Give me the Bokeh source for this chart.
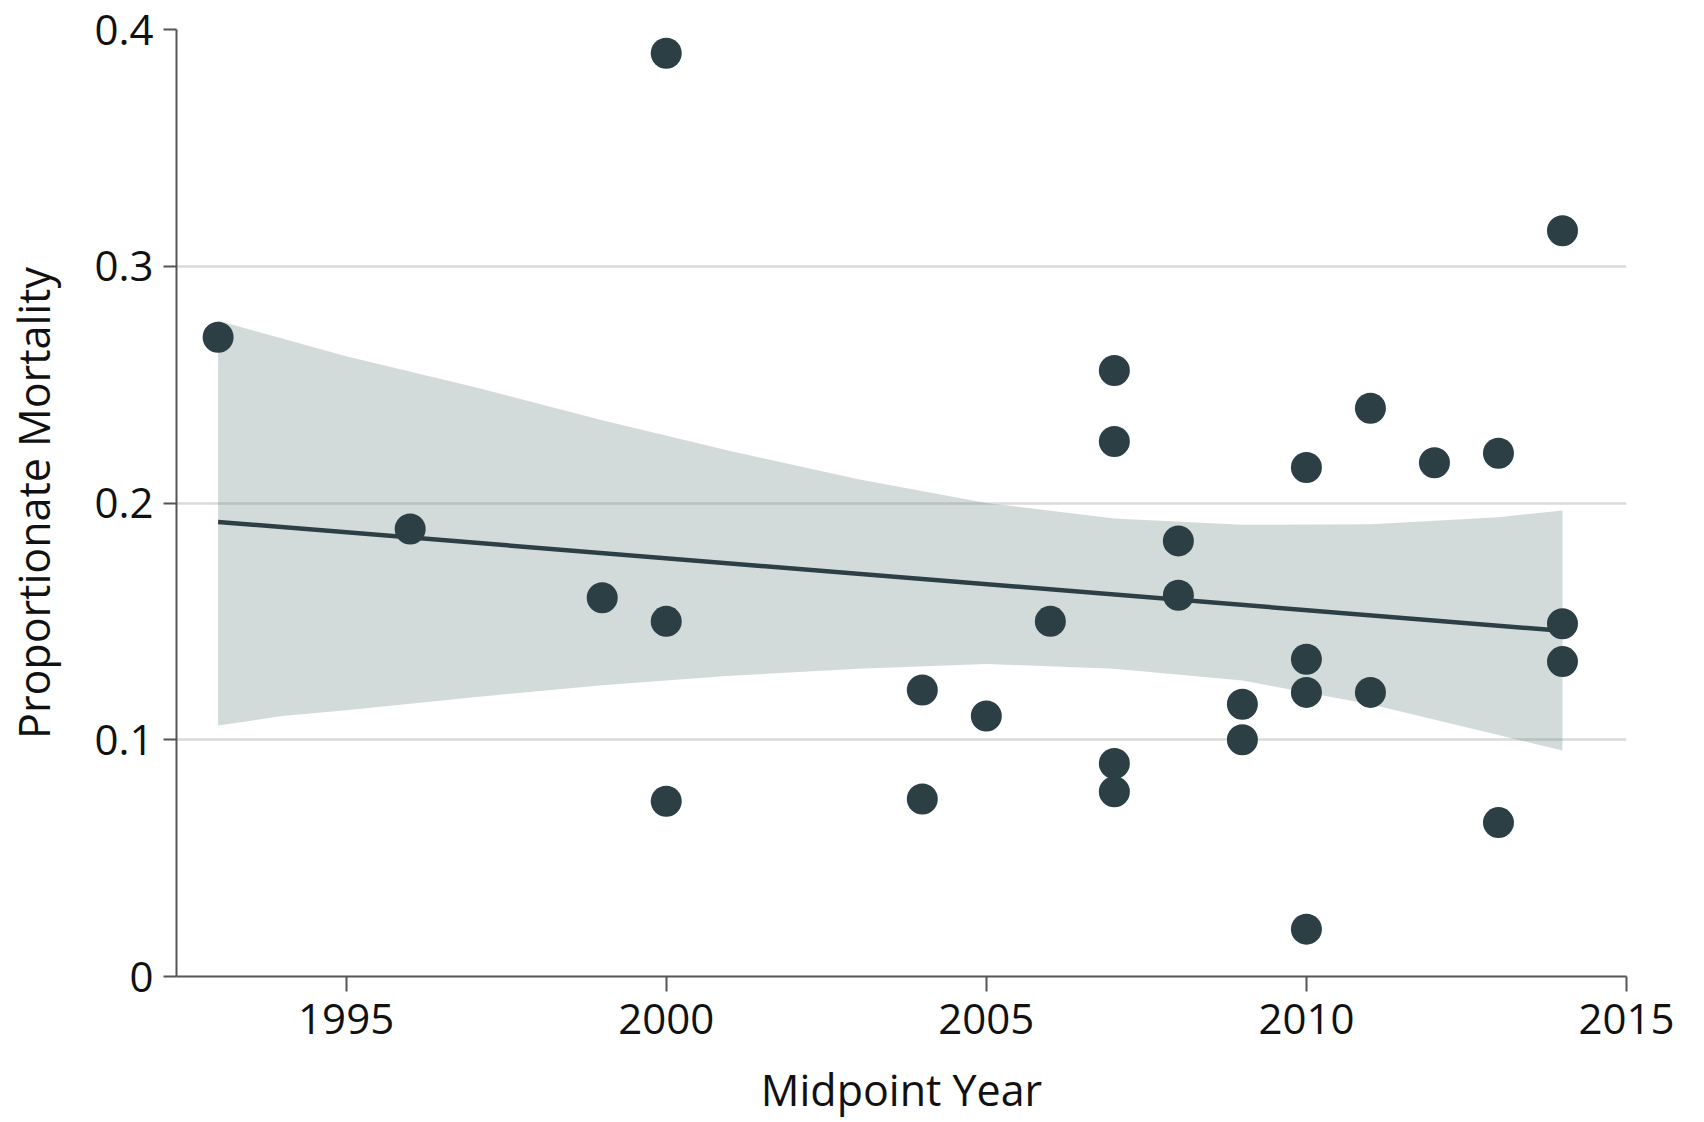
from bokeh.plotting import figure
from bokeh.models import Range1d, FixedTicker, ColumnDataSource
from bokeh.embed import file_html
from bokeh.resources import INLINE

# ---- data ----
years = [1993, 1996, 1999, 2000, 2000, 2000, 2004, 2004, 2005, 2006,
         2007, 2007, 2007, 2007, 2008, 2008, 2009, 2009, 2010, 2010,
         2010, 2010, 2011, 2011, 2012, 2013, 2013, 2014, 2014, 2014]
mortality = [0.270, 0.189, 0.160, 0.390, 0.150, 0.074, 0.121, 0.075, 0.110, 0.150,
             0.256, 0.226, 0.090, 0.078, 0.184, 0.161, 0.115, 0.100, 0.215, 0.134,
             0.120, 0.020, 0.240, 0.120, 0.217, 0.221, 0.065, 0.315, 0.149, 0.133]

fit_years = [1993, 2014]
fit_values = [0.192, 0.146]

band_years = [1993, 1994, 1995, 1997, 1999, 2001, 2003, 2005, 2007, 2009, 2011, 2013, 2014]
band_upper = [0.277, 0.2695, 0.262, 0.249, 0.235, 0.222, 0.210, 0.200, 0.1935, 0.1908, 0.191, 0.194, 0.1968]
band_lower = [0.106, 0.110, 0.1125, 0.118, 0.123, 0.127, 0.130, 0.132, 0.130, 0.125, 0.115, 0.102, 0.0955]

x_ticks = [1995, 2000, 2005, 2010, 2015]
y_ticks = [0, 0.1, 0.2, 0.3, 0.4]
y_tick_labels = ["0", "0.1", "0.2", "0.3", "0.4"]

DARK = "#2b3f45"
FONT = "Open Sans"

p = figure(width=1704, height=1122, output_backend="svg", toolbar_location=None,
           x_range=Range1d(1992.35, 2015), y_range=Range1d(0, 0.4),
           min_border_left=176, min_border_right=78, min_border_top=29, min_border_bottom=146)
p.outline_line_color = None
p.background_fill_color = "white"
p.border_fill_color = "white"

band = ColumnDataSource(dict(x=band_years, lo=band_lower, hi=band_upper))
p.varea(x="x", y1="lo", y2="hi", source=band, fill_color="#6e8585", fill_alpha=0.3)
p.line(fit_years, fit_values, line_color=DARK, line_width=4.5)
p.scatter(years, mortality, size=31, fill_color=DARK, line_color=DARK, line_width=0)

p.xgrid.grid_line_color = None
p.ygrid.grid_line_color = "#dadada"
p.ygrid.grid_line_width = 2.5
p.ygrid.ticker = FixedTicker(ticks=y_ticks)

p.xaxis.ticker = FixedTicker(ticks=x_ticks)
p.yaxis.ticker = FixedTicker(ticks=y_ticks)
p.yaxis.major_label_overrides = {t: l for t, l in zip(y_ticks, y_tick_labels)}

for ax in (p.xaxis[0], p.yaxis[0]):
    ax.axis_line_color = "#555555"
    ax.axis_line_width = 2
    ax.major_tick_line_color = "#555555"
    ax.major_tick_line_width = 2
    ax.major_tick_in = 0
    ax.minor_tick_line_color = None
    ax.major_label_text_font = FONT
    ax.major_label_text_font_size = "42px"
    ax.major_label_text_color = "#111111"
    ax.axis_label_text_font = FONT
    ax.axis_label_text_font_size = "43px"
    ax.axis_label_text_font_style = "normal"
    ax.axis_label_text_color = "#111111"

p.xaxis.major_tick_out = 15
p.yaxis.major_tick_out = 13
p.xaxis.major_label_standoff = 12
p.yaxis.major_label_standoff = 10
p.xaxis.axis_label = "Midpoint Year"
p.yaxis.axis_label = "Proportionate Mortality"
p.xaxis.axis_label_standoff = 23
p.yaxis.axis_label_standoff = 28

open("out.html", "w").write(file_html(p, INLINE))
